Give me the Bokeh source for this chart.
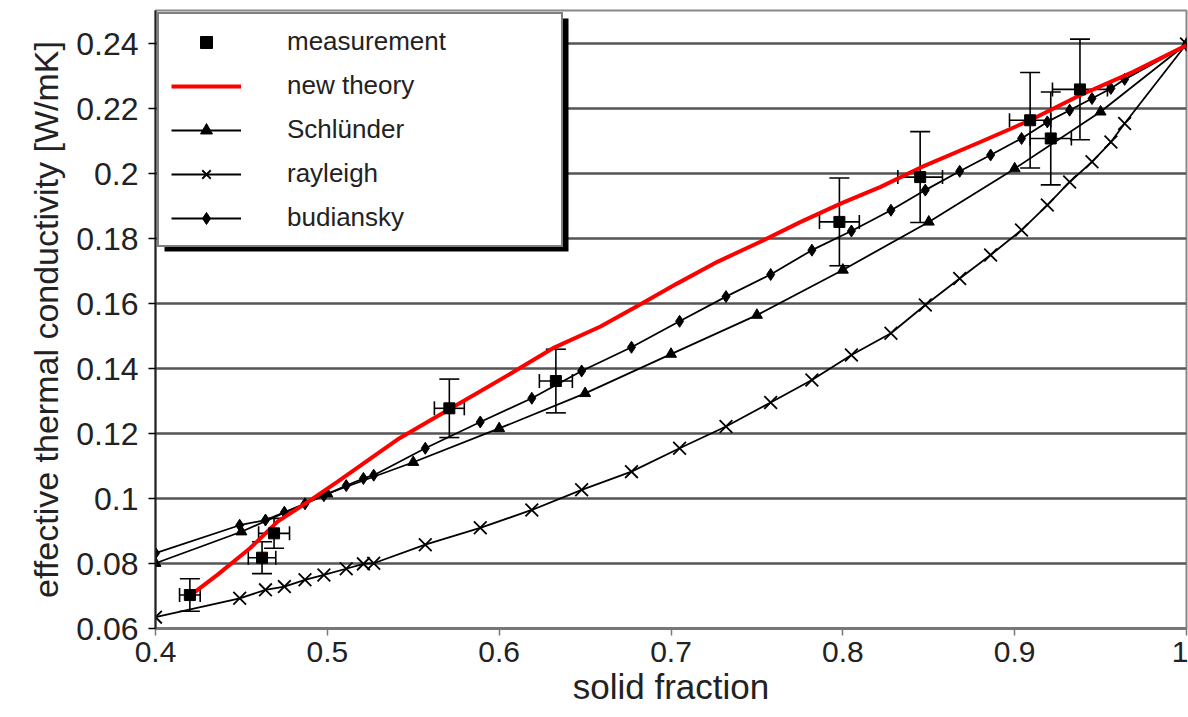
from bokeh.plotting import figure
from bokeh.models import (ColumnDataSource, Whisker, TeeHead, Range1d, FixedTicker,
                          CustomJSTickFormatter, Legend, LegendItem, BoxAnnotation)
from bokeh.embed import file_html
from bokeh.resources import INLINE

# ---------------- data ----------------
x_ticks = [0.4, 0.5, 0.6, 0.7, 0.8, 0.9, 1.0]
y_ticks = [0.06, 0.08, 0.10, 0.12, 0.14, 0.16, 0.18, 0.20, 0.22, 0.24]

meas_x = [0.420, 0.462, 0.469, 0.571, 0.633, 0.798, 0.845, 0.909, 0.921, 0.938]
meas_y = [0.0703, 0.0818, 0.0893, 0.1278, 0.1362, 0.1852, 0.1990, 0.2165, 0.2109, 0.2260]
meas_yerr = [0.005, 0.0049, 0.0046, 0.009, 0.0098, 0.0135, 0.014, 0.0147, 0.0143, 0.0155]
meas_xerr = [0.006, 0.008, 0.009, 0.0087, 0.0096, 0.0116, 0.013, 0.012, 0.012, 0.016]

theory_x = [0.422, 0.436, 0.455, 0.471, 0.487, 0.506, 0.542, 0.572, 0.607, 0.632, 0.659,
            0.682, 0.7035, 0.727, 0.752, 0.7755, 0.799, 0.822, 0.845, 0.880, 0.909, 0.938,
            0.969, 1.0]
theory_y = [0.0709, 0.0765, 0.0847, 0.0929, 0.0984, 0.1052, 0.1186, 0.1278, 0.1386, 0.1465,
            0.1530, 0.1598, 0.1662, 0.1729, 0.1791, 0.1852, 0.1909, 0.1960, 0.2019, 0.2098,
            0.2165, 0.2242, 0.2314, 0.2396]

schl_x = [0.40, 0.45, 0.50, 0.55, 0.60, 0.65, 0.70, 0.75, 0.80, 0.85, 0.90, 0.95, 1.0]
schl_y = [0.0801, 0.0898, 0.1015, 0.1112, 0.1216, 0.1324, 0.1445, 0.1565, 0.1704, 0.1852,
          0.2016, 0.2191, 0.2400]

model_x = [0.4, 0.449, 0.464, 0.475, 0.487, 0.498, 0.511, 0.521, 0.527, 0.557, 0.589, 0.619,
           0.648, 0.677, 0.705, 0.732, 0.758, 0.782, 0.805, 0.828, 0.848, 0.868, 0.886,
           0.904, 0.919, 0.932, 0.945, 0.956, 0.964, 1.0]
rayleigh_y = [0.0635, 0.0693, 0.0719, 0.0729, 0.0750, 0.0765, 0.0784, 0.0799, 0.0801, 0.0858,
              0.0910, 0.0965, 0.1027, 0.1083, 0.1155, 0.1222, 0.1296, 0.1365, 0.1442, 0.1509,
              0.1596, 0.1678, 0.1750, 0.1827, 0.1904, 0.1975, 0.2037, 0.2098, 0.2155, 0.2400]
budiansky_y = [0.0832, 0.0918, 0.0934, 0.0958, 0.0984, 0.1009, 0.1040, 0.1062, 0.1072, 0.1155,
               0.1236, 0.1309, 0.1393, 0.1466, 0.1546, 0.1622, 0.1690, 0.1765, 0.1824, 0.1888,
               0.1950, 0.2008, 0.2058, 0.2109, 0.2160, 0.2196, 0.2232, 0.2263, 0.2291, 0.2396]

# ---------------- figure ----------------
FONT = "Liberation Sans"
p = figure(width=1188, height=717, output_backend="svg", toolbar_location=None,
           x_range=Range1d(0.4, 1.0), y_range=Range1d(0.06, 0.2503),
           min_border_left=155, min_border_right=2, min_border_top=10, min_border_bottom=89)
p.background_fill_color = "white"
p.border_fill_color = "white"
p.outline_line_color = "#888888"
p.outline_line_width = 2

fmt = CustomJSTickFormatter(code="return tick.toFixed(2).replace(/0+$/, '').replace(/\\.$/, '');")

p.xaxis.ticker = FixedTicker(ticks=x_ticks)
p.yaxis.ticker = FixedTicker(ticks=y_ticks)
p.xaxis.formatter = fmt
p.yaxis.formatter = fmt
p.xgrid.visible = False
p.ygrid.grid_line_color = "#555555"
p.ygrid.grid_line_width = 2.5

for ax in (p.xaxis, p.yaxis):
    ax.major_label_text_font = FONT
    ax.major_label_text_color = "#222222"
    ax.axis_label_text_font = FONT
    ax.axis_label_text_font_style = "normal"
    ax.axis_label_text_color = "#222222"
    ax.minor_tick_line_color = None
    ax.major_tick_in = 0
    ax.major_tick_out = 7
    ax.major_tick_line_width = 1.5

p.xaxis.major_label_text_font_size = "30px"
p.yaxis.major_label_text_font_size = "32px"
p.xaxis.axis_label_text_font_size = "35px"
p.yaxis.axis_label_text_font_size = "34px"

p.xaxis.axis_label = "solid fraction"
p.yaxis.axis_label = "effective thermal conductivity [W/mK]"
p.xaxis.axis_line_color = "#777777"
p.xaxis.axis_line_width = 3
p.xaxis.major_tick_line_color = "#777777"
p.xaxis.major_label_standoff = 6
p.xaxis.axis_label_standoff = 2
p.yaxis.axis_line_color = "#222222"
p.yaxis.axis_line_width = 2
p.yaxis.major_label_standoff = 10
p.yaxis.axis_label_standoff = 8

# ---------------- series ----------------
sl = p.line(schl_x, schl_y, line_color="black", line_width=1.8)
sm = p.scatter(schl_x, schl_y, marker="triangle", size=11, color="black")

rl = p.line(model_x, rayleigh_y, line_color="black", line_width=1.8)
rm = p.scatter(model_x, rayleigh_y, marker="x", size=18, line_color="black", line_width=1.8)

bl = p.line(model_x, budiansky_y, line_color="black", line_width=1.8)
bm = p.scatter(model_x, budiansky_y, marker="diamond", size=12, color="black")

src = ColumnDataSource(dict(
    x=meas_x, y=meas_y,
    yl=[v - e for v, e in zip(meas_y, meas_yerr)], yu=[v + e for v, e in zip(meas_y, meas_yerr)],
    xl=[v - e for v, e in zip(meas_x, meas_xerr)], xu=[v + e for v, e in zip(meas_x, meas_xerr)],
))
p.add_layout(Whisker(source=src, base="x", lower="yl", upper="yu", dimension="height",
                     line_color="black", line_width=1.6,
                     lower_head=TeeHead(size=20, line_color="black", line_width=1.6),
                     upper_head=TeeHead(size=20, line_color="black", line_width=1.6)))
p.add_layout(Whisker(source=src, base="y", lower="xl", upper="xu", dimension="width",
                     line_color="black", line_width=1.6,
                     lower_head=TeeHead(size=14, line_color="black", line_width=1.6),
                     upper_head=TeeHead(size=14, line_color="black", line_width=1.6)))

tl = p.line(theory_x, theory_y, line_color="#ff0000", line_width=4)
mm = p.scatter("x", "y", source=src, marker="square", size=11, color="black")

# ---------------- legend ----------------
shadow = BoxAnnotation(left=164, right=568, top=18, bottom=251,
                       left_units="canvas", right_units="canvas",
                       top_units="canvas", bottom_units="canvas",
                       fill_color="black", fill_alpha=1.0, line_color=None)
p.add_layout(shadow)

legend = Legend(items=[
    LegendItem(label="measurement", renderers=[mm]),
    LegendItem(label="new theory", renderers=[tl]),
    LegendItem(label="Schlünder", renderers=[sl, sm]),
    LegendItem(label="rayleigh", renderers=[rl, rm]),
    LegendItem(label="budiansky", renderers=[bl, bm]),
], location="top_left")
legend.margin = 2
legend.padding = 12
legend.spacing = 13
legend.glyph_width = 70
legend.glyph_height = 30
legend.label_height = 30
legend.label_width = 262
legend.label_standoff = 46
legend.label_text_font = FONT
legend.label_text_font_size = "26px"
legend.label_text_color = "#222222"
legend.border_line_color = "black"
legend.border_line_width = 2
legend.background_fill_color = "white"
legend.background_fill_alpha = 1.0
p.add_layout(legend)

open("out.html", "w").write(file_html(p, INLINE))
